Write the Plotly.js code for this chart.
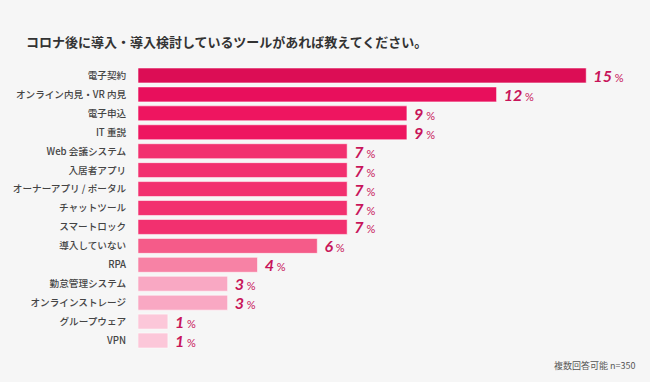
<!DOCTYPE html>
<html>
<head>
<meta charset="utf-8">
<script src="https://cdn.plot.ly/plotly-3.0.1.min.js"></script>
<style>html,body{margin:0;padding:0;background:#f6f6f6;}</style>
</head>
<body>
<div id="chart" style="width:650px;height:382px;"></div>
<script>
const categories = ["電子契約","オンライン内見・VR 内見","電子申込","IT 重説","Web 会議システム","入居者アプリ","オーナーアプリ / ポータル","チャットツール","スマートロック","導入していない","RPA","勤怠管理システム","オンラインストレージ","グループウェア","VPN"];
const values = [15,12,9,9,7,7,7,7,7,6,4,3,3,1,1];
const barColors = ["#dc0d55","#e80f5c","#ee1560","#ee1560","#f2306f","#f2306f","#f2306f","#f2306f","#f2306f","#f55b89","#f782a5","#f9a8c3","#f9a8c3","#fcc7d9","#fcc7d9"];
const titleText = "コロナ後に導入・導入検討しているツールがあれば教えてください。";
const noteText = "複数回答可能 n=350";

const trace = {
  type: "bar",
  orientation: "h",
  x: values,
  y: categories,
  width: 0.79,
  marker: {color: barColors, line: {color: "rgba(255,255,255,0.55)", width: 1}},
  text: values.map(v => String(v)),
  texttemplate: " <b><i>%{text}</i></b><span style='font-size:11px'> %</span>",
  textposition: "outside",
  constraintext: "none",
  cliponaxis: false,
  textfont: {family: "Lato, 'Open Sans', sans-serif", size: 16, color: "#c8155a"},
  hoverinfo: "none"
};

const layout = {
  width: 650, height: 382,
  paper_bgcolor: "#f6f6f6", plot_bgcolor: "#f6f6f6",
  margin: {l: 138, r: 4, t: 66, b: 32},
  showlegend: false,
  bargap: 0.2,
  title: {
    text: "<b>" + titleText + "</b>",
    x: 26/650, xanchor: "left", xref: "container",
    y: 1 - 42/382, yanchor: "middle", yref: "container",
    font: {family: "'Noto Sans CJK JP', sans-serif", size: 13, color: "#333333"}
  },
  xaxis: {range: [0, 17], visible: false, fixedrange: true},
  yaxis: {
    type: "category", autorange: "reversed",
    showgrid: false, zeroline: false, showline: false,
    ticks: "outside", ticklen: 9, tickcolor: "rgba(0,0,0,0)",
    tickfont: {family: "'Noto Sans CJK JP', sans-serif", size: 9.6, color: "#444444", weight: 500}
  },
  annotations: [{
    text: noteText, xref: "paper", yref: "paper",
    x: 1, xanchor: "right", xshift: -8, y: -15/284, yanchor: "middle",
    showarrow: false,
    font: {family: "'Noto Sans CJK JP', sans-serif", size: 9, color: "#555555"}
  }]
};

Plotly.newPlot("chart", [trace], layout, {displayModeBar: false, staticPlot: true});
</script>
</body>
</html>
